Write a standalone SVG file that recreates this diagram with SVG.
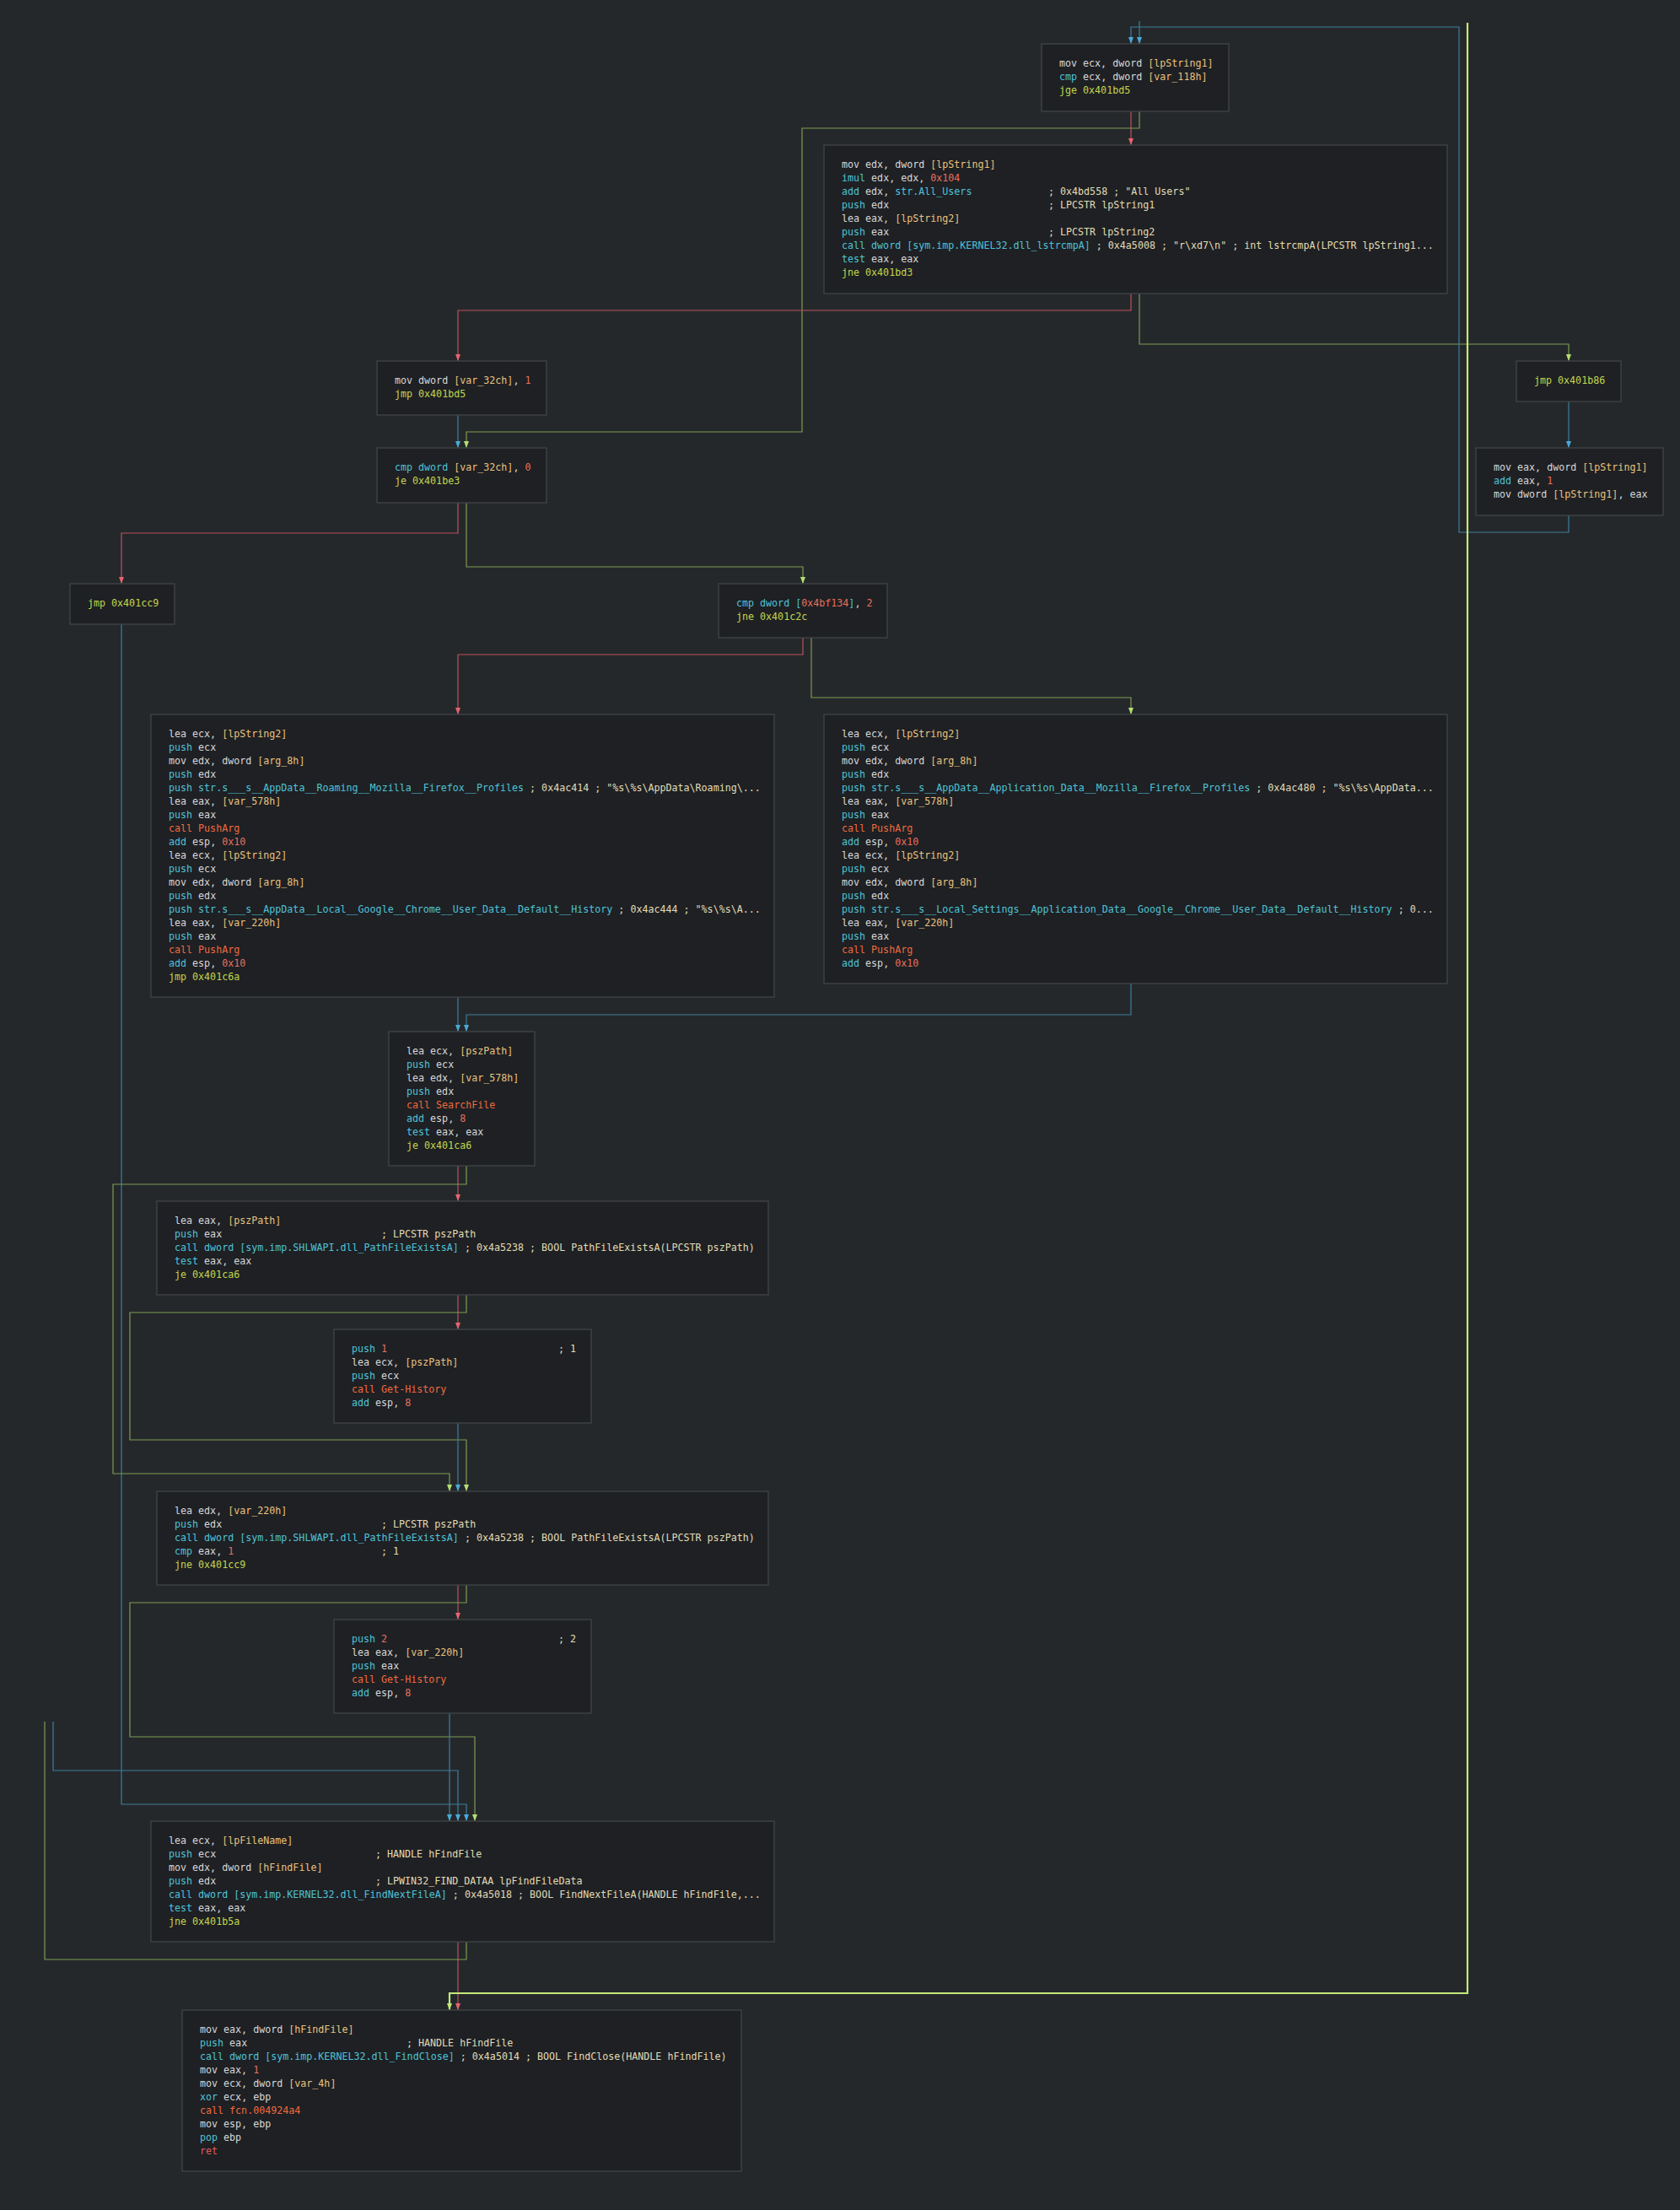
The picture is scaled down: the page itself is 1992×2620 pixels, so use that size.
<svg xmlns="http://www.w3.org/2000/svg" width="1992" height="2620" viewBox="0 0 1992 2620" xml:space="preserve">
<defs>
<style>
.bg{fill:#25282b}
.nd rect{fill:#1e2024;stroke:#3d4043;stroke-width:1.5}
text{font-family:"DejaVu Sans Mono","Liberation Mono",monospace;font-size:11.667px;fill:#d8d8d8;white-space:pre}
.c{fill:#4fc3d6}.o{fill:#ef6a3c}.y{fill:#c4d64c}.n{fill:#e6705e}.v{fill:#e9c27d}.m{fill:#e2dcb4}.r{fill:#e05a5a}
.e{fill:none;stroke-width:1.2}
.er{stroke:#b9535d}.eg{stroke:#7e9b53}.eb{stroke:#3b7e9e}.el{stroke:#c3e87a;stroke-width:2.2}
</style>
<marker id="mr" viewBox="0 0 8 6" refX="8" refY="3" markerWidth="8" markerHeight="6" markerUnits="userSpaceOnUse" orient="auto"><path d="M0,0L8,3L0,6z" fill="#e8636f"/></marker>
<marker id="mg" viewBox="0 0 8 6" refX="8" refY="3" markerWidth="8" markerHeight="6" markerUnits="userSpaceOnUse" orient="auto"><path d="M0,0L8,3L0,6z" fill="#b6df72"/></marker>
<marker id="mb" viewBox="0 0 8 6" refX="8" refY="3" markerWidth="8" markerHeight="6" markerUnits="userSpaceOnUse" orient="auto"><path d="M0,0L8,3L0,6z" fill="#4aaad8"/></marker>
<marker id="ml" viewBox="0 0 8 6" refX="8" refY="3" markerWidth="8" markerHeight="6" markerUnits="userSpaceOnUse" orient="auto"><path d="M0,0L8,3L0,6z" fill="#c3e87a"/></marker>
</defs>
<rect class="bg" x="0" y="0" width="1992" height="2620"/>
<g id="connectors">
<path class="e er" marker-end="url(#mr)" d="M1341,132V172"/>
<path class="e eg" marker-end="url(#mg)" d="M1351,132V152H951V512H553V531"/>
<path class="e er" marker-end="url(#mr)" d="M1341,348V368H543V428"/>
<path class="e eg" marker-end="url(#mg)" d="M1351,348V408H1860V428"/>
<path class="e eb" marker-end="url(#mb)" d="M543,492V531"/>
<path class="e eb" marker-end="url(#mb)" d="M1860,476V531"/>
<path class="e eb" marker-end="url(#mb)" d="M1860,611V631H1730V32H1341V52"/>
<path class="e eb" marker-end="url(#mb)" d="M1351,25V52"/>
<path class="e er" marker-end="url(#mr)" d="M543,596V632H144V692"/>
<path class="e eg" marker-end="url(#mg)" d="M553,596V672H952V692"/>
<path class="e eb" marker-end="url(#mb)" d="M144,740V2139H553V2159"/>
<path class="e er" marker-end="url(#mr)" d="M952,756V776H543V847"/>
<path class="e eg" marker-end="url(#mg)" d="M962,756V827H1341V847"/>
<path class="e eb" marker-end="url(#mb)" d="M543,1182V1223"/>
<path class="e eb" marker-end="url(#mb)" d="M1341,1166V1203H553V1223"/>
<path class="e er" marker-end="url(#mr)" d="M543,1382V1424"/>
<path class="e eg" marker-end="url(#mg)" d="M553,1382V1404H134V1747H533V1768"/>
<path class="e er" marker-end="url(#mr)" d="M543,1535V1576"/>
<path class="e eg" marker-end="url(#mg)" d="M553,1535V1556H154V1707H553V1768"/>
<path class="e eb" marker-end="url(#mb)" d="M543,1687V1768"/>
<path class="e er" marker-end="url(#mr)" d="M543,1879V1920"/>
<path class="e eg" marker-end="url(#mg)" d="M553,1879V1900H154V2059H563V2159"/>
<path class="e eb" marker-end="url(#mb)" d="M533,2031V2159"/>
<path class="e eb" marker-end="url(#mb)" d="M63,2041V2099H543V2159"/>
<path class="e er" marker-end="url(#mr)" d="M543,2302V2383"/>
<path class="e eg" d="M553,2302V2323H53V2041"/>
<path class="e el" marker-end="url(#ml)" d="M1740,27V2363H533V2383"/>
</g>
<g id="b1" class="nd"><rect x="1235" y="52" width="222" height="80"/>
<text x="1256" y="78.5">mov ecx, dword <tspan class="v">[lpString1]</tspan></text>
<text x="1256" y="94.5"><tspan class="c">cmp</tspan> ecx, dword <tspan class="v">[var_118h]</tspan></text>
<text x="1256" y="110.5" class="y">jge 0x401bd5</text>
</g>
<g id="b2" class="nd"><rect x="977" y="172" width="739" height="176"/>
<text x="998" y="198.5">mov edx, dword <tspan class="v">[lpString1]</tspan></text>
<text x="998" y="214.5"><tspan class="c">imul</tspan> edx, edx, <tspan class="n">0x104</tspan></text>
<text x="998" y="230.5"><tspan class="c">add</tspan> edx, <tspan class="c">str.All_Users</tspan><tspan x="1243" class="m">; 0x4bd558 ; "All Users"</tspan></text>
<text x="998" y="246.5"><tspan class="c">push</tspan> edx<tspan x="1243" class="m">; LPCSTR lpString1</tspan></text>
<text x="998" y="262.5">lea eax, <tspan class="v">[lpString2]</tspan></text>
<text x="998" y="278.5"><tspan class="c">push</tspan> eax<tspan x="1243" class="m">; LPCSTR lpString2</tspan></text>
<text x="998" y="294.5"><tspan class="c">call dword [sym.imp.KERNEL32.dll_lstrcmpA]</tspan><tspan class="m"> ; 0x4a5008 ; "r\xd7\n" ; int lstrcmpA(LPCSTR lpString1...</tspan></text>
<text x="998" y="310.5"><tspan class="c">test</tspan> eax, eax</text>
<text x="998" y="326.5" class="y">jne 0x401bd3</text>
</g>
<g id="b3" class="nd"><rect x="447" y="428" width="201" height="64"/>
<text x="468" y="454.5">mov dword <tspan class="v">[var_32ch]</tspan>, <tspan class="n">1</tspan></text>
<text x="468" y="470.5" class="y">jmp 0x401bd5</text>
</g>
<g id="b4" class="nd"><rect x="447" y="531" width="201" height="65"/>
<text x="468" y="557.5"><tspan class="c">cmp dword</tspan> <tspan class="v">[var_32ch]</tspan>, <tspan class="n">0</tspan></text>
<text x="468" y="573.5" class="y">je 0x401be3</text>
</g>
<g id="b5" class="nd"><rect x="1798" y="428" width="124" height="48"/>
<text x="1819" y="454.5" class="y">jmp 0x401b86</text>
</g>
<g id="b6" class="nd"><rect x="1750" y="531" width="222" height="80"/>
<text x="1771" y="557.5">mov eax, dword <tspan class="v">[lpString1]</tspan></text>
<text x="1771" y="573.5"><tspan class="c">add</tspan> eax, <tspan class="n">1</tspan></text>
<text x="1771" y="589.5">mov dword <tspan class="v">[lpString1]</tspan>, eax</text>
</g>
<g id="b7" class="nd"><rect x="83" y="692" width="124" height="48"/>
<text x="104" y="718.5" class="y">jmp 0x401cc9</text>
</g>
<g id="b8" class="nd"><rect x="852" y="692" width="200" height="64"/>
<text x="873" y="718.5"><tspan class="c">cmp dword [</tspan><tspan class="n">0x4bf134</tspan><tspan class="c">]</tspan>, <tspan class="n">2</tspan></text>
<text x="873" y="734.5" class="y">jne 0x401c2c</text>
</g>
<g id="b9" class="nd"><rect x="179" y="847" width="739" height="335"/>
<text x="200" y="873.5">lea ecx, <tspan class="v">[lpString2]</tspan></text>
<text x="200" y="889.5"><tspan class="c">push</tspan> ecx</text>
<text x="200" y="905.5">mov edx, dword <tspan class="v">[arg_8h]</tspan></text>
<text x="200" y="921.5"><tspan class="c">push</tspan> edx</text>
<text x="200" y="937.5"><tspan class="c">push str.s___s__AppData__Roaming__Mozilla__Firefox__Profiles</tspan><tspan class="m"> ; 0x4ac414 ; "%s\%s\AppData\Roaming\...</tspan></text>
<text x="200" y="953.5">lea eax, <tspan class="v">[var_578h]</tspan></text>
<text x="200" y="969.5"><tspan class="c">push</tspan> eax</text>
<text x="200" y="985.5" class="o">call PushArg</text>
<text x="200" y="1001.5"><tspan class="c">add</tspan> esp, <tspan class="n">0x10</tspan></text>
<text x="200" y="1017.5">lea ecx, <tspan class="v">[lpString2]</tspan></text>
<text x="200" y="1033.5"><tspan class="c">push</tspan> ecx</text>
<text x="200" y="1049.5">mov edx, dword <tspan class="v">[arg_8h]</tspan></text>
<text x="200" y="1065.5"><tspan class="c">push</tspan> edx</text>
<text x="200" y="1081.5"><tspan class="c">push str.s___s__AppData__Local__Google__Chrome__User_Data__Default__History</tspan><tspan class="m"> ; 0x4ac444 ; "%s\%s\A...</tspan></text>
<text x="200" y="1097.5">lea eax, <tspan class="v">[var_220h]</tspan></text>
<text x="200" y="1113.5"><tspan class="c">push</tspan> eax</text>
<text x="200" y="1129.5" class="o">call PushArg</text>
<text x="200" y="1145.5"><tspan class="c">add</tspan> esp, <tspan class="n">0x10</tspan></text>
<text x="200" y="1161.5" class="y">jmp 0x401c6a</text>
</g>
<g id="b10" class="nd"><rect x="977" y="847" width="739" height="319"/>
<text x="998" y="873.5">lea ecx, <tspan class="v">[lpString2]</tspan></text>
<text x="998" y="889.5"><tspan class="c">push</tspan> ecx</text>
<text x="998" y="905.5">mov edx, dword <tspan class="v">[arg_8h]</tspan></text>
<text x="998" y="921.5"><tspan class="c">push</tspan> edx</text>
<text x="998" y="937.5"><tspan class="c">push str.s___s__AppData__Application_Data__Mozilla__Firefox__Profiles</tspan><tspan class="m"> ; 0x4ac480 ; "%s\%s\AppData...</tspan></text>
<text x="998" y="953.5">lea eax, <tspan class="v">[var_578h]</tspan></text>
<text x="998" y="969.5"><tspan class="c">push</tspan> eax</text>
<text x="998" y="985.5" class="o">call PushArg</text>
<text x="998" y="1001.5"><tspan class="c">add</tspan> esp, <tspan class="n">0x10</tspan></text>
<text x="998" y="1017.5">lea ecx, <tspan class="v">[lpString2]</tspan></text>
<text x="998" y="1033.5"><tspan class="c">push</tspan> ecx</text>
<text x="998" y="1049.5">mov edx, dword <tspan class="v">[arg_8h]</tspan></text>
<text x="998" y="1065.5"><tspan class="c">push</tspan> edx</text>
<text x="998" y="1081.5"><tspan class="c">push str.s___s__Local_Settings__Application_Data__Google__Chrome__User_Data__Default__History</tspan><tspan class="m"> ; 0...</tspan></text>
<text x="998" y="1097.5">lea eax, <tspan class="v">[var_220h]</tspan></text>
<text x="998" y="1113.5"><tspan class="c">push</tspan> eax</text>
<text x="998" y="1129.5" class="o">call PushArg</text>
<text x="998" y="1145.5"><tspan class="c">add</tspan> esp, <tspan class="n">0x10</tspan></text>
</g>
<g id="b11" class="nd"><rect x="461" y="1223" width="173" height="159"/>
<text x="482" y="1249.5">lea ecx, <tspan class="v">[pszPath]</tspan></text>
<text x="482" y="1265.5"><tspan class="c">push</tspan> ecx</text>
<text x="482" y="1281.5">lea edx, <tspan class="v">[var_578h]</tspan></text>
<text x="482" y="1297.5"><tspan class="c">push</tspan> edx</text>
<text x="482" y="1313.5" class="o">call SearchFile</text>
<text x="482" y="1329.5"><tspan class="c">add</tspan> esp, <tspan class="n">8</tspan></text>
<text x="482" y="1345.5"><tspan class="c">test</tspan> eax, eax</text>
<text x="482" y="1361.5" class="y">je 0x401ca6</text>
</g>
<g id="b12" class="nd"><rect x="186" y="1424" width="725" height="111"/>
<text x="207" y="1450.5">lea eax, <tspan class="v">[pszPath]</tspan></text>
<text x="207" y="1466.5"><tspan class="c">push</tspan> eax<tspan x="452" class="m">; LPCSTR pszPath</tspan></text>
<text x="207" y="1482.5"><tspan class="c">call dword [sym.imp.SHLWAPI.dll_PathFileExistsA]</tspan><tspan class="m"> ; 0x4a5238 ; BOOL PathFileExistsA(LPCSTR pszPath)</tspan></text>
<text x="207" y="1498.5"><tspan class="c">test</tspan> eax, eax</text>
<text x="207" y="1514.5" class="y">je 0x401ca6</text>
</g>
<g id="b13" class="nd"><rect x="396" y="1576" width="305" height="111"/>
<text x="417" y="1602.5"><tspan class="c">push</tspan> <tspan class="n">1</tspan><tspan x="662" class="m">; 1</tspan></text>
<text x="417" y="1618.5">lea ecx, <tspan class="v">[pszPath]</tspan></text>
<text x="417" y="1634.5"><tspan class="c">push</tspan> ecx</text>
<text x="417" y="1650.5" class="o">call Get-History</text>
<text x="417" y="1666.5"><tspan class="c">add</tspan> esp, <tspan class="n">8</tspan></text>
</g>
<g id="b14" class="nd"><rect x="186" y="1768" width="725" height="111"/>
<text x="207" y="1794.5">lea edx, <tspan class="v">[var_220h]</tspan></text>
<text x="207" y="1810.5"><tspan class="c">push</tspan> edx<tspan x="452" class="m">; LPCSTR pszPath</tspan></text>
<text x="207" y="1826.5"><tspan class="c">call dword [sym.imp.SHLWAPI.dll_PathFileExistsA]</tspan><tspan class="m"> ; 0x4a5238 ; BOOL PathFileExistsA(LPCSTR pszPath)</tspan></text>
<text x="207" y="1842.5"><tspan class="c">cmp</tspan> eax, <tspan class="n">1</tspan><tspan x="452" class="m">; 1</tspan></text>
<text x="207" y="1858.5" class="y">jne 0x401cc9</text>
</g>
<g id="b15" class="nd"><rect x="396" y="1920" width="305" height="111"/>
<text x="417" y="1946.5"><tspan class="c">push</tspan> <tspan class="n">2</tspan><tspan x="662" class="m">; 2</tspan></text>
<text x="417" y="1962.5">lea eax, <tspan class="v">[var_220h]</tspan></text>
<text x="417" y="1978.5"><tspan class="c">push</tspan> eax</text>
<text x="417" y="1994.5" class="o">call Get-History</text>
<text x="417" y="2010.5"><tspan class="c">add</tspan> esp, <tspan class="n">8</tspan></text>
</g>
<g id="b16" class="nd"><rect x="179" y="2159" width="739" height="143"/>
<text x="200" y="2185.5">lea ecx, <tspan class="v">[lpFileName]</tspan></text>
<text x="200" y="2201.5"><tspan class="c">push</tspan> ecx<tspan x="445" class="m">; HANDLE hFindFile</tspan></text>
<text x="200" y="2217.5">mov edx, dword <tspan class="v">[hFindFile]</tspan></text>
<text x="200" y="2233.5"><tspan class="c">push</tspan> edx<tspan x="445" class="m">; LPWIN32_FIND_DATAA lpFindFileData</tspan></text>
<text x="200" y="2249.5"><tspan class="c">call dword [sym.imp.KERNEL32.dll_FindNextFileA]</tspan><tspan class="m"> ; 0x4a5018 ; BOOL FindNextFileA(HANDLE hFindFile,...</tspan></text>
<text x="200" y="2265.5"><tspan class="c">test</tspan> eax, eax</text>
<text x="200" y="2281.5" class="y">jne 0x401b5a</text>
</g>
<g id="b17" class="nd"><rect x="216" y="2383" width="663" height="191"/>
<text x="237" y="2409.5">mov eax, dword <tspan class="v">[hFindFile]</tspan></text>
<text x="237" y="2425.5"><tspan class="c">push</tspan> eax<tspan x="482" class="m">; HANDLE hFindFile</tspan></text>
<text x="237" y="2441.5"><tspan class="c">call dword [sym.imp.KERNEL32.dll_FindClose]</tspan><tspan class="m"> ; 0x4a5014 ; BOOL FindClose(HANDLE hFindFile)</tspan></text>
<text x="237" y="2457.5">mov eax, <tspan class="n">1</tspan></text>
<text x="237" y="2473.5">mov ecx, dword <tspan class="v">[var_4h]</tspan></text>
<text x="237" y="2489.5"><tspan class="c">xor</tspan> ecx, ebp</text>
<text x="237" y="2505.5" class="o">call fcn.004924a4</text>
<text x="237" y="2521.5">mov esp, ebp</text>
<text x="237" y="2537.5"><tspan class="c">pop</tspan> ebp</text>
<text x="237" y="2553.5" class="r">ret</text>
</g>
</svg>
